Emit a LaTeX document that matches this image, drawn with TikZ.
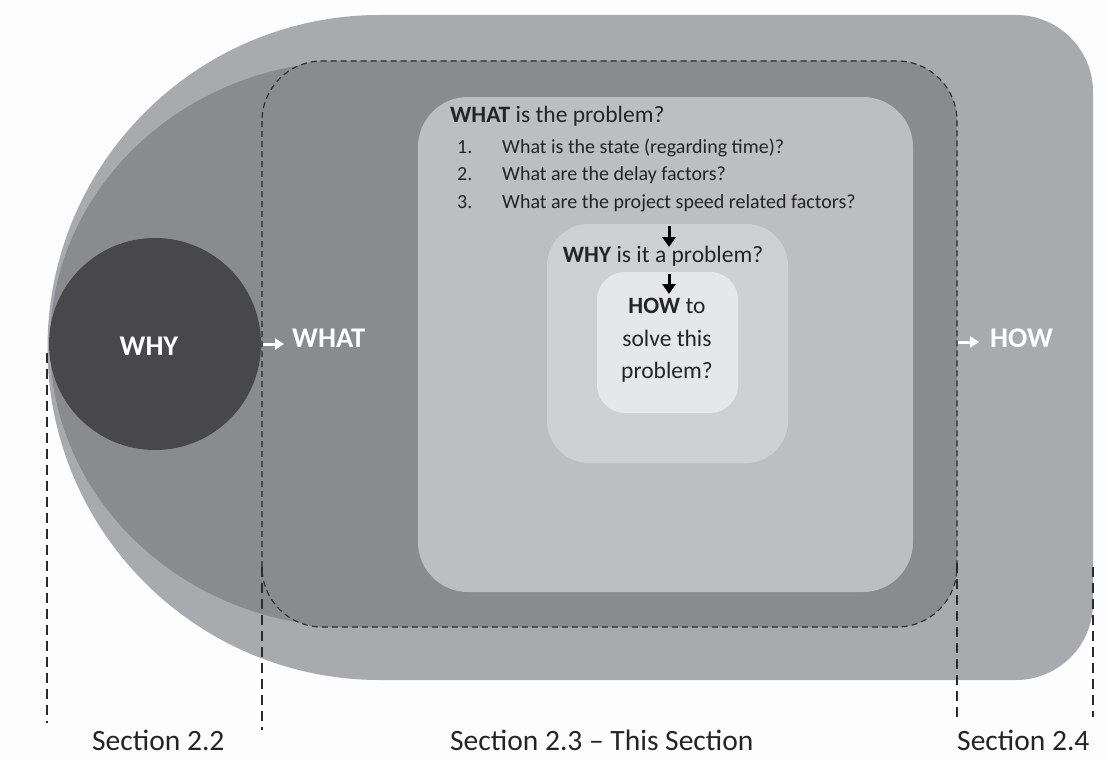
\documentclass[tikz,border=0pt]{standalone}
\usepackage{fontspec}
\setmainfont{Carlito}
\usetikzlibrary{arrows.meta}

\definecolor{paper}{HTML}{FDFDFD}
\definecolor{outerg}{HTML}{A9AAAD}
\definecolor{ringg}{HTML}{8A8B8E}
\definecolor{whatg}{HTML}{BDBEC1}
\definecolor{whyg}{HTML}{CFD0D2}
\definecolor{howg}{HTML}{E6E7E9}
\definecolor{whyc}{HTML}{48484B}
\definecolor{ink}{HTML}{242424}
\definecolor{dashc}{HTML}{2A2A2A}

\tikzset{
  biglbl/.style={text=white, inner sep=0, font=\fontsize{28.5}{33}\selectfont\bfseries},
  titletxt/.style={text=ink, inner sep=0, font=\fontsize{23.5}{28}\selectfont},
  listtxt/.style={text=ink, inner sep=0, font=\fontsize{20}{24}\selectfont},
  sectxt/.style={text=ink, inner sep=0, font=\fontsize{29.5}{34}\selectfont},
  dashrect/.style={draw=dashc, line width=1.1pt, dash pattern=on 6pt off 4pt},
  sepline/.style={draw=dashc, line width=1.4pt, dash pattern=on 10pt off 6pt},
  whitearrow/.style={draw=white, line width=3pt, -{Triangle[width=11pt,length=9pt]}},
  blackarrow/.style={draw=black, line width=3pt, -{Triangle[width=13pt,length=10pt]}},
}

\begin{document}
\begin{tikzpicture}[x=1pt,y=-1pt]
  % page
  \fill[paper] (0,0) rectangle (1108,760);
  \useasboundingbox (0,0) rectangle (1108,760);

  % outer band (sections 2.2 to 2.4)
  \fill[outerg] (380,15) -- (1016,15) arc[start angle=270,end angle=360,radius=77]
    -- (1093,603) arc[start angle=0,end angle=90,radius=77]
    -- (380,680) arc[start angle=90,end angle=270,radius=332.5] -- cycle;

  % darker band: left lobe plus the section 2.3 frame
  \fill[ringg] (353,627) arc[start angle=90,end angle=270,x radius=303,y radius=283] -- cycle;
  \fill[ringg, rounded corners=60] (262,61) rectangle (957,627);

  % nested question boxes
  \fill[whatg, rounded corners=50] (418,97) rectangle (913,592);
  \fill[whyg, rounded corners=42] (547,224) rectangle (788,463);
  \fill[howg, rounded corners=28] (597,272) rectangle (738,413);

  % WHY circle
  \fill[whyc] (155,344) circle[radius=106];

  % frame of this section
  \draw[dashrect, rounded corners=60] (262,61) rectangle (957,627);

  % section separators
  \coordinate (s1t) at (47,353);   \coordinate (s1b) at (47,723);
  \coordinate (s2t) at (262,567);  \coordinate (s2b) at (262,730);
  \coordinate (s3t) at (957,563);  \coordinate (s3b) at (957,718);
  \coordinate (s4t) at (1093,567); \coordinate (s4b) at (1093,717);
  \draw[sepline] (s1t) -- (s1b);
  \draw[sepline] (s2t) -- (s2b);
  \draw[sepline] (s3t) -- (s3b);
  \draw[sepline] (s4t) -- (s4b);

  % big labels
  \node[biglbl, anchor=base] (why) at (149,355) {WHY};
  \node[biglbl, anchor=base west] (what) at (292,347) {WHAT};
  \node[biglbl, anchor=base west] (how) at (990,347) {HOW};
  \coordinate (wa) at (263,344);
  \coordinate (wb) at (284,344);
  \coordinate (ha) at (958,342);
  \coordinate (hb) at (979,342);
  \draw[whitearrow] (wa) -- (wb);
  \draw[whitearrow] (ha) -- (hb);

  % WHAT box text
  \node[titletxt, anchor=base west] (q1) at (450,122) {\textbf{WHAT} is the problem?};
  \node[listtxt, anchor=base west] (n1) at (457,153) {1.};
  \node[listtxt, anchor=base west] (i1) at (502,153) {What is the state (regarding time)?};
  \node[listtxt, anchor=base west] (n2) at (457,180.5) {2.};
  \node[listtxt, anchor=base west] (i2) at (502,180.5) {What are the delay factors?};
  \node[listtxt, anchor=base west] (n3) at (457,208) {3.};
  \node[listtxt, anchor=base west] (i3) at (502,208) {What are the project speed related factors?};

  % WHY box text
  \node[titletxt, anchor=base] (q2) at (663,262) {\textbf{WHY} is it a problem?};

  % HOW box text
  \node[titletxt, anchor=base] (q3a) at (667,313) {\textbf{HOW} to};
  \node[titletxt, anchor=base] (q3b) at (667,346) {solve this};
  \node[titletxt, anchor=base] (q3c) at (667,378) {problem?};

  % flow arrows
  \coordinate (d1a) at (669,226);
  \coordinate (d1b) at (669,247);
  \coordinate (d2a) at (669,274);
  \coordinate (d2b) at (669,294);
  \draw[blackarrow] (d1a) -- (d1b);
  \draw[blackarrow] (d2a) -- (d2b);

  % section captions
  \node[sectxt, anchor=base west] (sec22) at (92,750) {Section 2.2};
  \node[sectxt, anchor=base west] (sec23) at (450,750) {Section 2.3 -- This Section};
  \node[sectxt, anchor=base west] (sec24) at (957,750) {Section 2.4};
\end{tikzpicture}
\end{document}
